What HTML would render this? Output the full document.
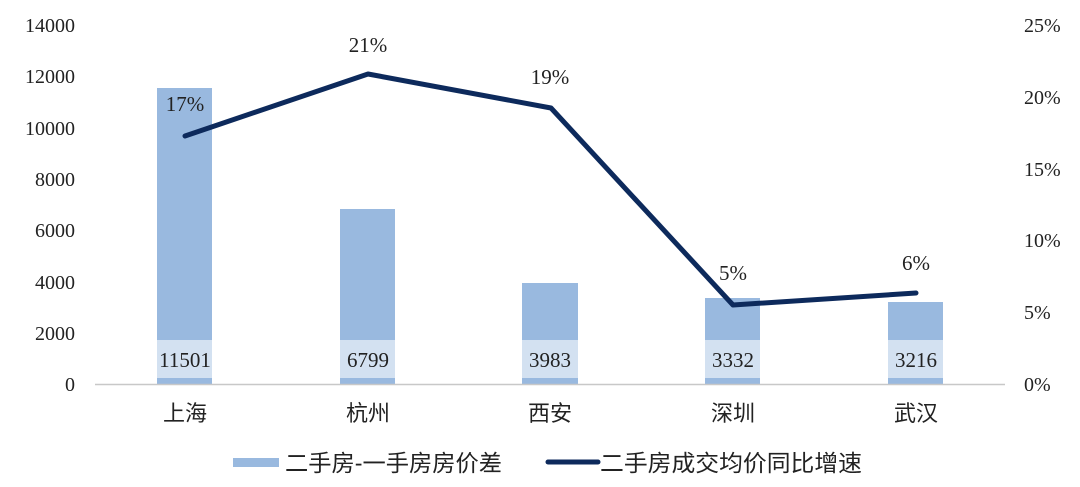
<!DOCTYPE html>
<html><head><meta charset="utf-8"><style>
body{margin:0;background:#fff;}
svg text{font-family:"Liberation Serif","Noto Serif CJK SC",serif;fill:#222;}
.cj{font-family:"Liberation Sans","Noto Sans CJK SC",sans-serif;}
</style></head><body>
<svg width="1080" height="482" xmlns="http://www.w3.org/2000/svg">
<g font-size="20" text-anchor="end">
<text x="75" y="32">14000</text><text x="75" y="83">12000</text><text x="75" y="135">10000</text>
<text x="75" y="186">8000</text><text x="75" y="237">6000</text><text x="75" y="289">4000</text>
<text x="75" y="340">2000</text><text x="75" y="391">0</text>
</g>
<g font-size="20" text-anchor="start">
<text x="1024" y="32">25%</text><text x="1024" y="104">20%</text><text x="1024" y="176">15%</text>
<text x="1024" y="247">10%</text><text x="1024" y="319">5%</text><text x="1024" y="391">0%</text>
</g>
<g fill="#99b9df">
<rect x="157" y="88" width="55" height="296"/>
<rect x="340" y="209" width="55" height="175"/>
<rect x="522" y="283" width="56" height="101"/>
<rect x="705" y="298" width="55" height="86"/>
<rect x="888" y="302" width="55" height="82"/>
</g>
<g fill="#d3e1f1">
<rect x="157" y="340" width="55" height="38"/>
<rect x="340" y="340" width="55" height="38"/>
<rect x="522" y="340" width="56" height="38"/>
<rect x="705" y="340" width="55" height="38"/>
<rect x="888" y="340" width="55" height="38"/>
</g>
<line x1="95" y1="384.5" x2="1005" y2="384.5" stroke="#c8c8c8" stroke-width="1.5"/>
<g font-size="21" text-anchor="middle">
<text x="185" y="367">11501</text><text x="368" y="367">6799</text><text x="550" y="367">3983</text>
<text x="733" y="367">3332</text><text x="916" y="367">3216</text>
<text x="185" y="111">17%</text><text x="368" y="52">21%</text><text x="550" y="84">19%</text>
<text x="733" y="280">5%</text><text x="916" y="270">6%</text>
</g>
<polyline points="185,136 368,74 551,108 733,305 916,293" fill="none" stroke="#0d2a5c" stroke-width="5" stroke-linejoin="round" stroke-linecap="round"/>
<g font-size="22" text-anchor="middle">
<text class="cj" x="185" y="421">上海</text><text class="cj" x="368" y="421">杭州</text><text class="cj" x="550" y="421">西安</text>
<text class="cj" x="733" y="421">深圳</text><text class="cj" x="916" y="421">武汉</text>
</g>
<rect x="233" y="458" width="46" height="9" fill="#99b9df"/>
<text class="cj" x="285" y="471" font-size="23" textLength="217" lengthAdjust="spacingAndGlyphs">二手房-一手房房价差</text>
<line x1="548" y1="462" x2="598" y2="462" stroke="#0d2a5c" stroke-width="5" stroke-linecap="round"/>
<text class="cj" x="600" y="471" font-size="23" textLength="262" lengthAdjust="spacingAndGlyphs">二手房成交均价同比增速</text>
</svg>
</body></html>
